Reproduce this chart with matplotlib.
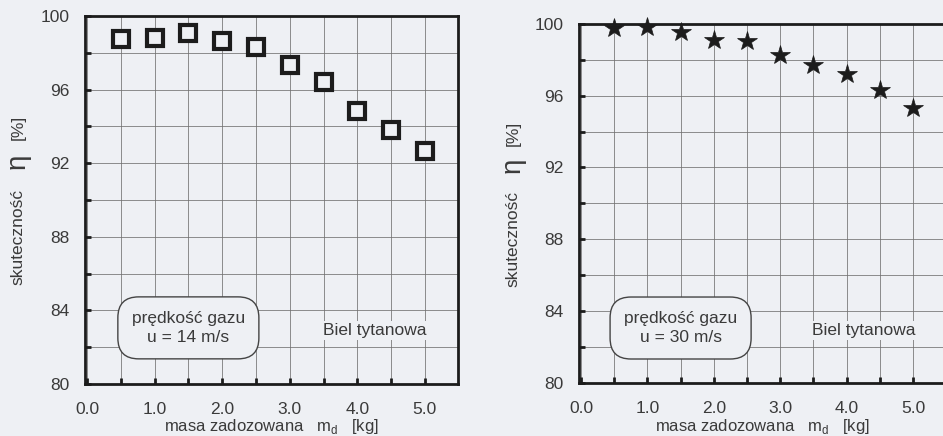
import numpy as np
import matplotlib.pyplot as plt

plt.rcParams['font.family'] = ['Liberation Sans', 'DejaVu Sans']

# dane
masa = [0.5, 1.0, 1.5, 2.0, 2.5, 3.0, 3.5, 4.0, 4.5, 5.0]
eta_14 = [98.75, 98.8, 99.05, 98.65, 98.3, 97.35, 96.4, 94.85, 93.8, 92.65]
eta_30 = [99.8, 99.85, 99.55, 99.1, 99.05, 98.25, 97.7, 97.2, 96.3, 95.3]
predkosci = ['u = 14 m/s', 'u = 30 m/s']
x_labels = ['0.0', '1.0', '2.0', '3.0', '4.0', '5.0']
y_labels = ['80', '84', '88', '92', '96', '100']

tlo = '#eef0f4'
ciemny = '#1c1c1c'
tekst = '#3a3a3a'
fs = 12.5

fig = plt.figure(figsize=(9.43, 4.36), dpi=100)
fig.patch.set_facecolor(tlo)

ax1 = fig.add_axes([0.0901, 0.1193, 0.3956, 0.844])
ax2 = fig.add_axes([0.614, 0.1222, 0.3887, 0.8228])


def rysuj(ax, eta, predkosc, marker, ms, mew, mfc):
    ax.set_facecolor(tlo)
    ax.set_xlim(-0.03, 5.49)
    ax.set_ylim(80, 100)

    ax.set_xticks(np.arange(0, 5.01, 1.0))
    ax.set_xticklabels(x_labels)
    ax.set_xticks(np.arange(0.5, 5.01, 1.0), minor=True)
    ax.set_yticks(np.arange(80, 100.1, 4))
    ax.set_yticklabels(y_labels)
    ax.set_yticks(np.arange(82, 99, 4), minor=True)

    ax.tick_params(which='both', direction='in', length=4, width=2, color=ciemny)
    ax.tick_params(axis='x', which='major', labelsize=fs, labelcolor=tekst, pad=13)
    ax.tick_params(axis='y', which='major', labelsize=fs, labelcolor=tekst, pad=11)

    ax.grid(True, which='both', color='#707070', lw=0.55)
    for s in ax.spines.values():
        s.set_linewidth(2)
        s.set_color(ciemny)
        s.set_zorder(4)

    ax.plot(masa, eta, ls='none', marker=marker, ms=ms, mew=mew,
            mec=ciemny, mfc=mfc, zorder=5, clip_on=False)

    ax.text(1.5, 83.05, 'prędkość gazu\n' + predkosc, ha='center', va='center',
            fontsize=fs, color=tekst, linespacing=1.35,
            bbox=dict(boxstyle='round,pad=0.8,rounding_size=1.2',
                      fc=tlo, ec='#444444', lw=1.0))
    ax.text(4.26, 82.9, 'Biel tytanowa', ha='center', va='center',
            fontsize=fs, color=tekst,
            bbox=dict(boxstyle='square,pad=0.1', fc=tlo, ec='none'))

    pos = ax.get_position()
    fig.text(pos.x0 + 0.5 * pos.width, 1 - 426 / 436,
             'masa zadozowana   m$_\\mathregular{d}$   [kg]',
             ha='center', va='center', fontsize=12, color=tekst)

    ax.text(-0.18, 0.40, 'skuteczność', transform=ax.transAxes, rotation=90,
            ha='center', va='center', fontsize=fs, color=tekst)
    ax.text(-0.18, 0.605, 'η', transform=ax.transAxes, rotation=90,
            ha='center', va='center', fontsize=20, color=tekst)
    ax.text(-0.18, 0.696, '[%]', transform=ax.transAxes, rotation=90,
            ha='center', va='center', fontsize=fs, color=tekst)


rysuj(ax1, eta_14, predkosci[0], 's', 11, 3, tlo)
rysuj(ax2, eta_30, predkosci[1], '*', 15, 0.5, ciemny)

fig.savefig('out.png', dpi=100, facecolor=tlo)
